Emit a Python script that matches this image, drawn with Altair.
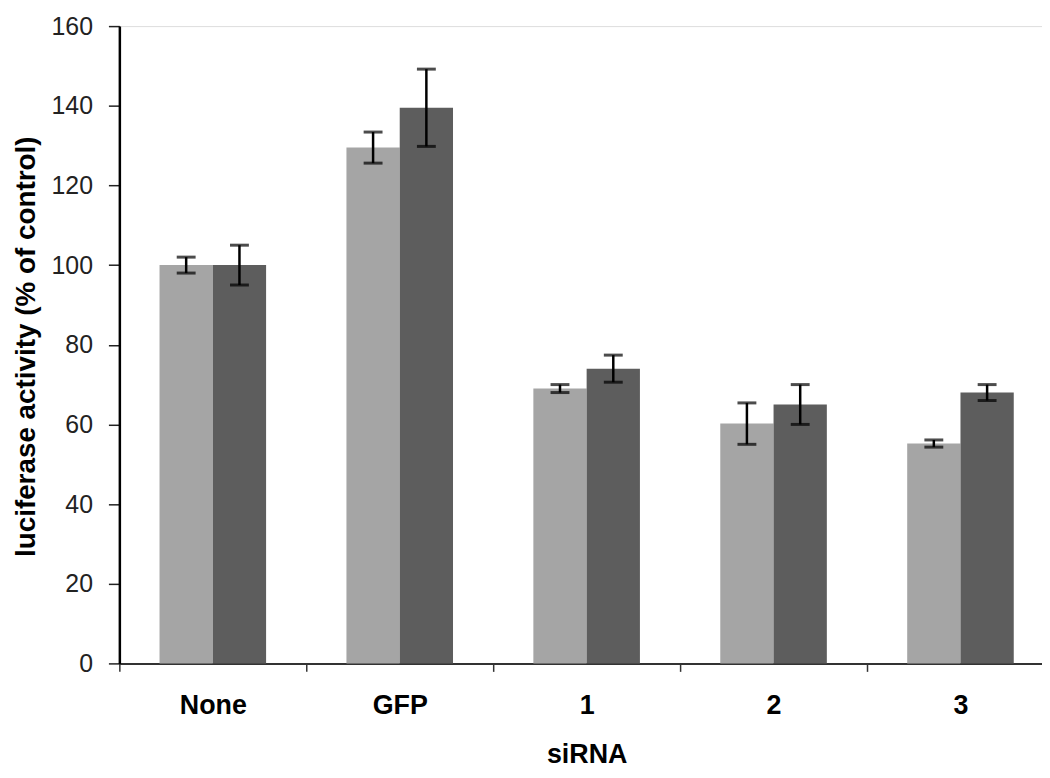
import altair as alt
import pandas as pd

categories = ["None", "GFP", "1", "2", "3"]
series = ["A", "B"]
light_vals = [100, 129.5, 69, 60.2, 55.2]
light_err = [2, 3.9, 1, 5.2, 0.9]
dark_vals = [100, 139.5, 74, 65, 68]
dark_err = [5, 9.7, 3.4, 5, 2]

rows = []
for i, c in enumerate(categories):
    rows.append({"cat": c, "s": "A", "v": light_vals[i], "lo": light_vals[i] - light_err[i], "hi": light_vals[i] + light_err[i]})
    rows.append({"cat": c, "s": "B", "v": dark_vals[i], "lo": dark_vals[i] - dark_err[i], "hi": dark_vals[i] + dark_err[i]})
df = pd.DataFrame(rows)

font = "Liberation Sans"

x_scale = alt.Scale(paddingInner=0, paddingOuter=0, range=[0, 940])
x = alt.X("cat:N", sort=categories, title="siRNA", scale=x_scale,
          axis=alt.Axis(labelAngle=0, labelFontSize=27, labelFontWeight="bold", labelFont=font,
                        labelColor="black", labelPadding=21, tickBand="extent", tickSize=8,
                        tickColor="#333", tickWidth=1.5, domainColor="#333", domainWidth=2,
                        titleFontSize=27, titleFontWeight="bold", titleFont=font, titleColor="black",
                        titlePadding=24))
xo = alt.XOffset("s:N", scale=alt.Scale(paddingInner=0, paddingOuter=0.754))
y_scale = alt.Scale(domain=[0, 160])

bars = alt.Chart(df).mark_bar().encode(
    x=x, xOffset=xo,
    y=alt.Y("v:Q", scale=y_scale, title="luciferase activity (% of control)",
            axis=alt.Axis(values=[0, 20, 40, 60, 80, 100, 120, 140, 160], grid=False,
                          labelFontSize=25, labelFont=font, labelColor="#222", labelPadding=16,
                          tickSize=11, tickColor="#222", tickWidth=1.5,
                          domainColor="black", domainWidth=2.5,
                          titleFontSize=28, titleFontWeight="bold", titleFont=font, titleColor="black",
                          titleX=-93, titleY=322, titleAlign="center", titleBaseline="middle",
                          titleAngle=270)),
    color=alt.Color("s:N", scale=alt.Scale(domain=series, range=["#a5a5a5", "#5d5d5d"]), legend=None),
)

rules = alt.Chart(df).mark_rule(color="black", strokeWidth=2.5).encode(
    x=alt.X("cat:N", sort=categories, scale=x_scale), xOffset=xo,
    y=alt.Y("lo:Q", scale=y_scale), y2="hi:Q",
)
caps_hi = alt.Chart(df).mark_tick(color="black", thickness=3, size=19, orient="horizontal").encode(
    x=alt.X("cat:N", sort=categories, scale=x_scale), xOffset=xo, y=alt.Y("hi:Q", scale=y_scale),
)
caps_lo = alt.Chart(df).mark_tick(color="black", thickness=3, size=19, orient="horizontal").encode(
    x=alt.X("cat:N", sort=categories, scale=x_scale), xOffset=xo, y=alt.Y("lo:Q", scale=y_scale),
)

chart = alt.layer(bars, rules, caps_hi, caps_lo).properties(
    width=928, height=641,
    padding={"left": 112, "top": 16, "right": 0, "bottom": 105},
    autosize=alt.AutoSizeParams(type="none"),
).configure_view(stroke=None).configure(background="white")

chart.save("out.html", embed_options={"renderer": "svg", "actions": False})
